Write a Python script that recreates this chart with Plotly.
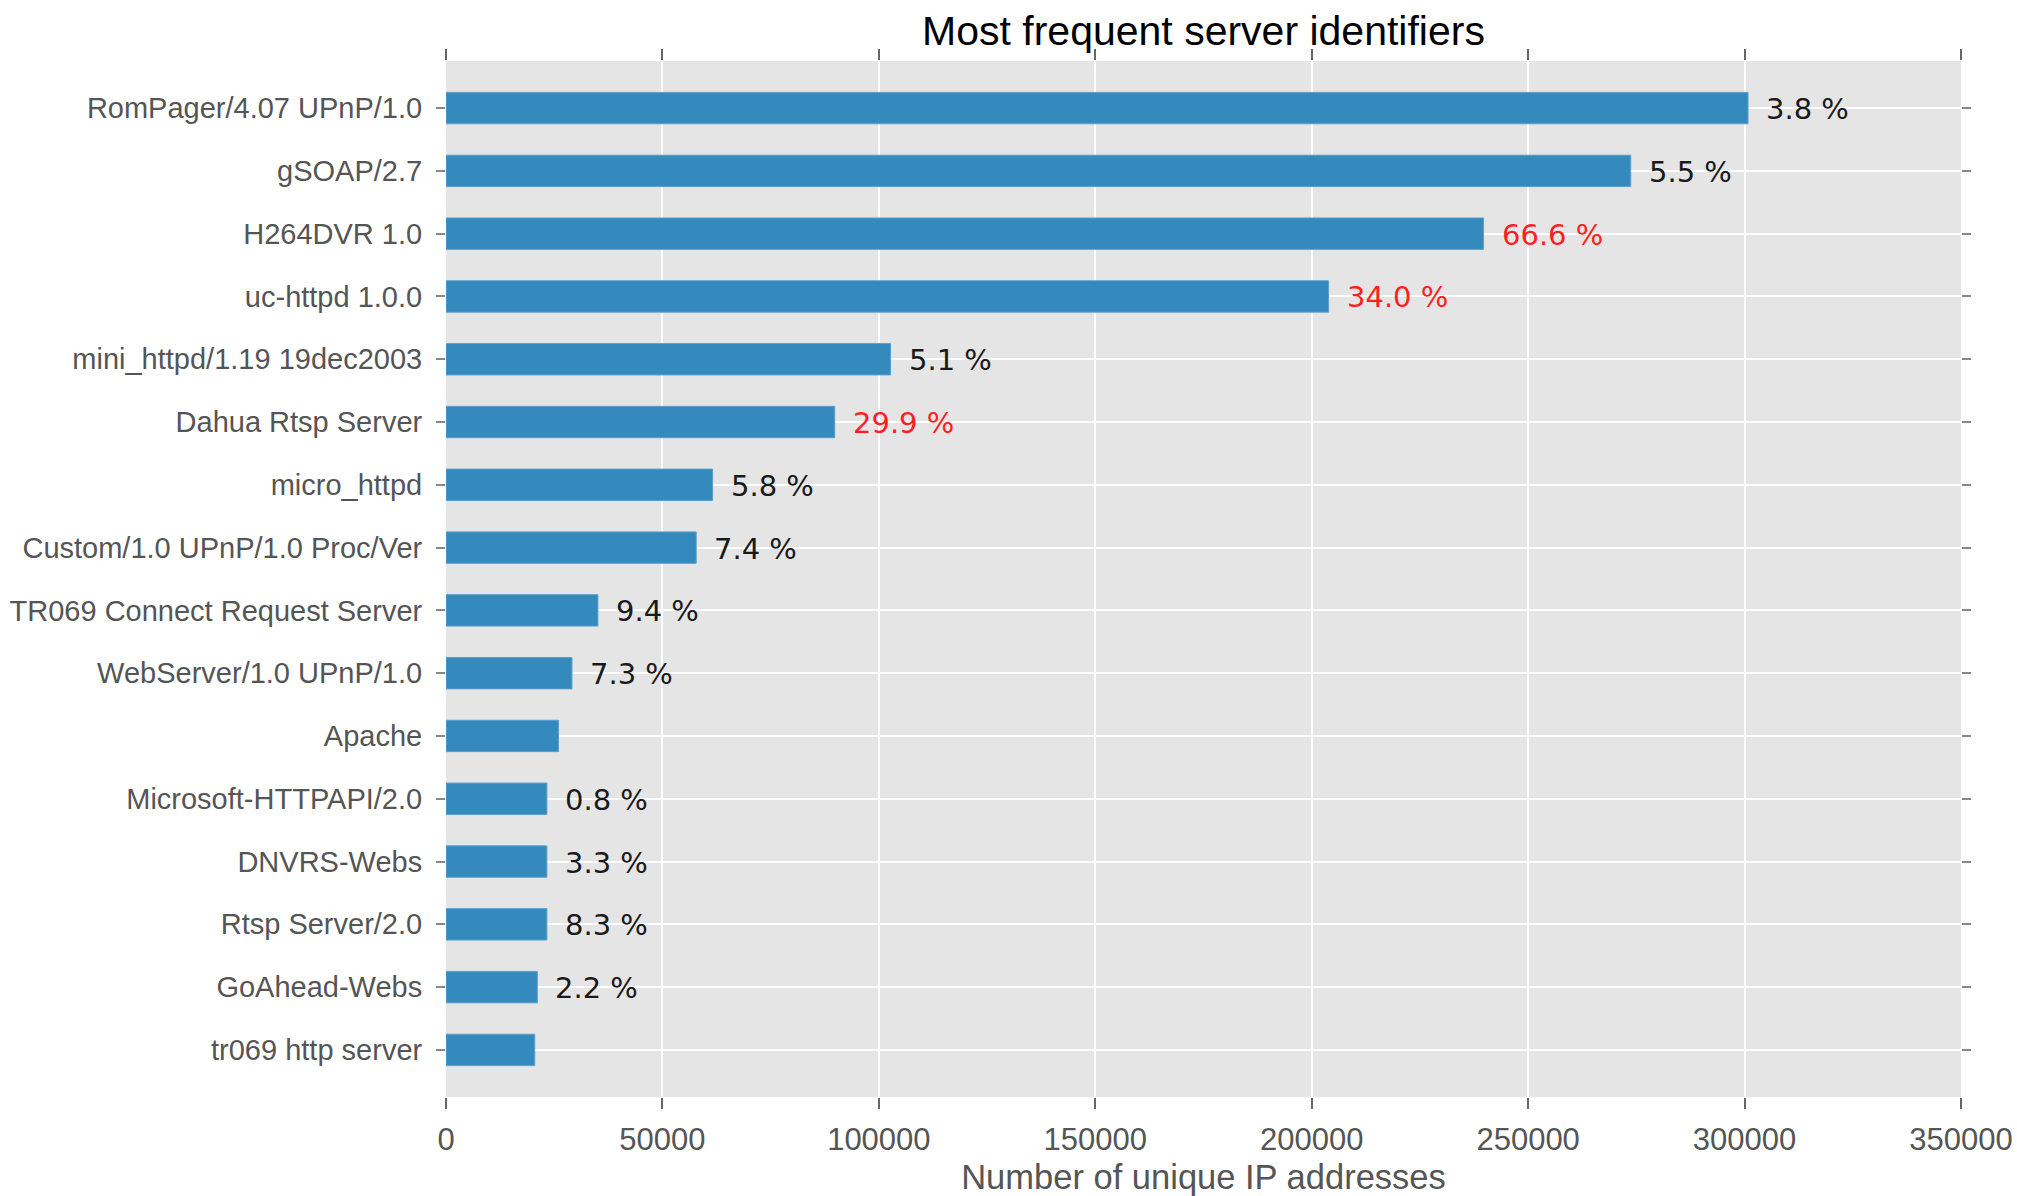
import plotly.graph_objects as go

servers = [
    "RomPager/4.07 UPnP/1.0",
    "gSOAP/2.7",
    "H264DVR 1.0",
    "uc-httpd 1.0.0",
    "mini_httpd/1.19 19dec2003",
    "Dahua Rtsp Server",
    "micro_httpd",
    "Custom/1.0 UPnP/1.0 Proc/Ver",
    "TR069 Connect Request Server",
    "WebServer/1.0 UPnP/1.0",
    "Apache",
    "Microsoft-HTTPAPI/2.0",
    "DNVRS-Webs",
    "Rtsp Server/2.0",
    "GoAhead-Webs",
    "tr069 http server",
]
ip_counts = [300800, 273700, 239700, 203900, 102700, 89800, 61600, 57800,
             35100, 29100, 26000, 23300, 23300, 23300, 21100, 20500]
pct_labels = ["3.8 %", "5.5 %", "66.6 %", "34.0 %", "5.1 %", "29.9 %", "5.8 %", "7.4 %",
              "9.4 %", "7.3 %", "", "0.8 %", "3.3 %", "8.3 %", "2.2 %", ""]
pct_highlight = [False, False, True, True, False, True, False, False,
                 False, False, False, False, False, False, False, False]
x_ticks = [0, 50000, 100000, 150000, 200000, 250000, 300000, 350000]

fig = go.Figure()
fig.add_trace(go.Bar(
    x=ip_counts,
    y=servers,
    orientation="h",
    width=0.5,
    marker=dict(color="#348ABD", line=dict(color="#5c9fcf", width=1)),
    showlegend=False,
    hoverinfo="x+y",
))

for name, val, lab, hi in zip(servers, ip_counts, pct_labels, pct_highlight):
    if not lab:
        continue
    fig.add_annotation(
        x=val, y=name, text=lab, showarrow=False,
        xanchor="left", yanchor="middle", xshift=16, yshift=-1,
        font=dict(family="DejaVu Sans", size=29,
                  color="#ff1f1f" if hi else "#1a1a1a"),
    )

fig.update_layout(
    width=2017, height=1196,
    paper_bgcolor="white",
    plot_bgcolor="#E5E5E5",
    margin=dict(l=446, r=56, t=61, b=99, autoexpand=False),
    bargap=0.5,
    title=dict(
        text="Most frequent server identifiers",
        x=0.5, xref="paper", xanchor="center",
        y=1 - 31 / 1196, yref="container", yanchor="middle",
        font=dict(family="Liberation Sans", size=41, color="#000000"),
    ),
    font=dict(family="Liberation Sans", size=29, color="#555555"),
)

fig.update_xaxes(
    range=[0, 350000],
    tickvals=x_ticks,
    ticktext=[str(v) for v in x_ticks],
    showgrid=True, gridcolor="white", gridwidth=2,
    zeroline=False,
    showline=False,
    ticks="outside", ticklen=11, tickwidth=1.5, tickcolor="#666666",
    mirror="ticks",
    ticklabelstandoff=4,
    tickfont=dict(family="Liberation Sans", size=31, color="#555555"),
    title=dict(text="Number of unique IP addresses",
               font=dict(family="Liberation Sans", size=34.5, color="#555555"),
               standoff=13),
)

fig.update_yaxes(
    type="category",
    categoryorder="array",
    categoryarray=servers,
    range=[15.75, -0.75],
    showgrid=True, gridcolor="white", gridwidth=2,
    zeroline=False,
    showline=False,
    ticks="outside", ticklen=9, tickwidth=1.5, tickcolor="#888888",
    mirror="ticks",
    ticklabelstandoff=8,
    tickfont=dict(family="Liberation Sans", size=29, color="#555555"),
)

fig.write_html("out.html", config={"displayModeBar": False},
               post_script="document.body.style.margin='0px';")
